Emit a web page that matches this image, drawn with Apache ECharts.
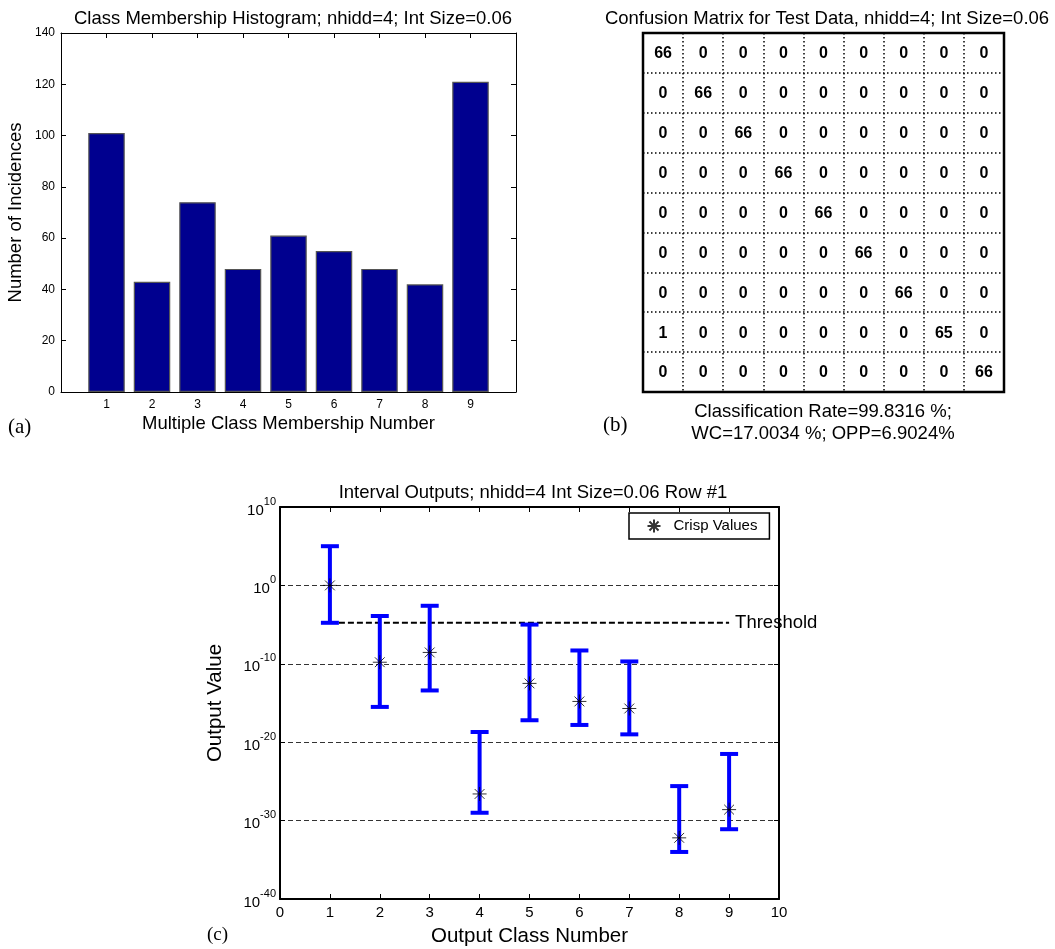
<!DOCTYPE html>
<html lang="en">
<head>
    <meta charset="utf-8">
    <title>Interval network results</title>
    <script type="text/javascript" src="https://cdn.jsdelivr.net/npm/echarts@6/dist/echarts.min.js"></script>
    <style>
        html, body { margin: 0; padding: 0; background: #fff; }
        #main { width: 1055px; height: 949px; }
    </style>
</head>
<body>
<div id="main"></div>
<script>
    // (a) 直方图数据
    var classNums = [1, 2, 3, 4, 5, 6, 7, 8, 9];
    var incidences = [101, 43, 74, 48, 61, 55, 48, 42, 121];

    // (b) 混淆矩阵，每行一个类
    var matrixLabels = ['1', '2', '3', '4', '5', '6', '7', '8', '9'];
    var confusion = [
        [66, 0, 0, 0, 0, 0, 0, 0, 0],
        [0, 66, 0, 0, 0, 0, 0, 0, 0],
        [0, 0, 66, 0, 0, 0, 0, 0, 0],
        [0, 0, 0, 66, 0, 0, 0, 0, 0],
        [0, 0, 0, 0, 66, 0, 0, 0, 0],
        [0, 0, 0, 0, 0, 66, 0, 0, 0],
        [0, 0, 0, 0, 0, 0, 66, 0, 0],
        [1, 0, 0, 0, 0, 0, 0, 65, 0],
        [0, 0, 0, 0, 0, 0, 0, 0, 66]
    ];

    // (c) 区间输出, 以 log10 指数表示 (纵轴是十进制对数刻度)
    var crispExp = [0, -9.8, -8.55, -26.6, -12.5, -14.8, -15.7, -32.2, -28.6];
    var lowExp = [-4.77, -15.5, -13.4, -29.0, -17.2, -17.8, -19.0, -34.0, -31.1];
    var highExp = [5.0, -3.9, -2.6, -18.7, -5.0, -8.3, -9.7, -25.6, -21.5];
    var thresholdExp = -4.77;
    var thresholdRange = [1, 9];

    var ff = '"Liberation Sans", Arial, Helvetica, sans-serif';
    var serif = '"Liberation Serif", "Times New Roman", serif';

    var histData = classNums.map(function (c, i) { return [c, incidences[i]]; });
    var matrixData = [];
    for (var r = 0; r < confusion.length; r++) {
        for (var c = 0; c < confusion[r].length; c++) {
            matrixData.push([c, r, confusion[r][c]]);
        }
    }
    var barData = classNums.map(function (c, i) { return [c, lowExp[i], highExp[i]]; });
    var crispData = classNums.map(function (c, i) { return [c, crispExp[i]]; });
    var thrData = thresholdRange.map(function (x) { return [x, thresholdExp]; });

    var blackLine = { show: true, onZero: false, lineStyle: { color: '#000', width: 1 } };
    var thickLine = { show: true, onZero: false, lineStyle: { color: '#000', width: 2 } };
    var inTick = { show: true, inside: true, length: 5, lineStyle: { color: '#000' } };

    var myChart = echarts.init(document.getElementById('main'));

    var option = {
        animation: false,
        textStyle: { fontFamily: ff },
        title: [
            {
                text: 'Class Membership Histogram; nhidd=4; Int Size=0.06',
                left: 288, top: 4, textAlign: 'center',
                textStyle: { fontFamily: ff, fontSize: 18.5, fontWeight: 'normal', color: '#000' }
            },
            {
                text: 'Confusion Matrix for Test Data, nhidd=4; Int Size=0.06',
                left: 822, top: 4, textAlign: 'center',
                textStyle: { fontFamily: ff, fontSize: 18.5, fontWeight: 'normal', color: '#000' }
            },
            {
                text: 'Interval Outputs; nhidd=4 Int Size=0.06 Row #1',
                left: 528, top: 478, textAlign: 'center',
                textStyle: { fontFamily: ff, fontSize: 18.5, fontWeight: 'normal', color: '#000' }
            }
        ],
        legend: {
            data: ['Crisp Values'],
            left: 629, top: 513,
            backgroundColor: '#fff',
            borderColor: '#000', borderWidth: 1.5, borderRadius: 0,
            padding: [4, 12, 4, 16],
            itemWidth: 13, itemHeight: 13,
            textStyle: { fontFamily: ff, fontSize: 15, color: '#000', padding: [0, 0, 0, 8] }
        },
        grid: [
            { left: 61, top: 33, width: 455, height: 359, outerBoundsMode: 'none' },
            { left: 643, top: 33, width: 361, height: 359, outerBoundsMode: 'none', show: true, borderColor: '#000', borderWidth: 2.5, backgroundColor: 'transparent' },
            { left: 280, top: 507, width: 499, height: 392, outerBoundsMode: 'none' }
        ],
        xAxis: [
            {
                type: 'value', gridIndex: 0, position: 'bottom', min: 0, max: 10, interval: 1,
                axisLine: blackLine, axisTick: inTick, splitLine: { show: false },
                axisLabel: {
                    color: '#000', fontSize: 12, margin: 7,
                    formatter: function (v) { return (v >= 1 && v <= 9) ? String(v) : ''; }
                },
                name: 'Multiple Class Membership Number', nameLocation: 'middle', nameGap: 22,
                nameTextStyle: { fontSize: 18.5, color: '#000' }
            },
            {
                type: 'value', gridIndex: 0, position: 'top', min: 0, max: 10, interval: 1,
                axisLine: blackLine, axisTick: inTick, axisLabel: { show: false }, splitLine: { show: false }
            },
            {
                type: 'category', gridIndex: 1, data: matrixLabels,
                axisLine: { show: false }, axisTick: { show: false }, axisLabel: { show: false },
                splitLine: { show: true, lineStyle: { color: '#000', width: 1.5, type: [1.5, 2.5] } }
            },
            {
                type: 'value', gridIndex: 2, position: 'bottom', min: 0, max: 10, interval: 1,
                axisLine: thickLine, axisTick: inTick, splitLine: { show: false },
                axisLabel: { color: '#000', fontSize: 15, margin: 6 },
                name: 'Output Class Number', nameLocation: 'middle', nameGap: 27,
                nameTextStyle: { fontSize: 20.5, color: '#000' }
            },
            {
                type: 'value', gridIndex: 2, position: 'top', min: 0, max: 10, interval: 1,
                axisLine: thickLine, axisTick: inTick, axisLabel: { show: false }, splitLine: { show: false }
            }
        ],
        yAxis: [
            {
                type: 'value', gridIndex: 0, position: 'left', min: 0, max: 140, interval: 20,
                axisLine: blackLine, axisTick: inTick, splitLine: { show: false },
                axisLabel: { color: '#000', fontSize: 12, margin: 6 },
                name: 'Number of Incidences', nameLocation: 'middle', nameGap: 36,
                nameTextStyle: { fontSize: 18.5, color: '#000' }
            },
            {
                type: 'value', gridIndex: 0, position: 'right', min: 0, max: 140, interval: 20,
                axisLine: blackLine, axisTick: inTick, axisLabel: { show: false }, splitLine: { show: false }
            },
            {
                type: 'category', gridIndex: 1, data: matrixLabels, inverse: true,
                axisLine: { show: false }, axisTick: { show: false }, axisLabel: { show: false },
                splitLine: { show: true, lineStyle: { color: '#000', width: 1.5, type: [1.5, 2.5] } }
            },
            {
                type: 'value', gridIndex: 2, position: 'left', min: -40, max: 10, interval: 10,
                axisLine: thickLine, axisTick: inTick,
                splitLine: { show: true, lineStyle: { color: '#333', width: 1, type: [5, 3] } },
                axisLabel: {
                    margin: 4,
                    formatter: function (v) { return '{b|10}{s|' + v + '}'; },
                    rich: {
                        b: { fontSize: 15, color: '#000', fontFamily: ff, lineHeight: 22, verticalAlign: 'bottom' },
                        s: { fontSize: 11, color: '#000', fontFamily: ff, lineHeight: 22, verticalAlign: 'top' }
                    }
                },
                name: 'Output Value', nameLocation: 'middle', nameGap: 54,
                nameTextStyle: { fontSize: 20.5, color: '#000' }
            },
            {
                type: 'value', gridIndex: 2, position: 'right', min: -40, max: 10, interval: 10,
                axisLine: thickLine, axisTick: inTick,
                axisLabel: { show: false }, splitLine: { show: false }
            }
        ],
        series: [
            {
                type: 'bar', xAxisIndex: 0, yAxisIndex: 0, data: histData, barWidth: 36.5,
                itemStyle: { color: '#00008F', borderColor: '#555', borderWidth: 1.2 }
            },
            {
                type: 'custom', xAxisIndex: 2, yAxisIndex: 2, data: matrixData,
                encode: { x: 0, y: 1 },
                renderItem: function (params, api) {
                    var p = api.coord([api.value(0), api.value(1)]);
                    return {
                        type: 'text', x: p[0], y: p[1] + 1,
                        style: {
                            text: String(api.value(2)), fill: '#000',
                            font: 'bold 16px ' + ff,
                            align: 'center', verticalAlign: 'middle',
                            textAlign: 'center', textVerticalAlign: 'middle'
                        }
                    };
                }
            },
            {
                type: 'custom', xAxisIndex: 3, yAxisIndex: 3, data: barData,
                encode: { x: 0, y: [1, 2] }, z: 3,
                renderItem: function (params, api) {
                    var x = api.value(0);
                    var lo = api.coord([x, api.value(1)]);
                    var hi = api.coord([x, api.value(2)]);
                    var hw = 9;
                    var st = { stroke: '#0000FF', lineWidth: 4 };
                    return {
                        type: 'group',
                        children: [
                            { type: 'line', shape: { x1: lo[0], y1: lo[1], x2: hi[0], y2: hi[1] }, style: st },
                            { type: 'line', shape: { x1: lo[0] - hw, y1: lo[1], x2: lo[0] + hw, y2: lo[1] }, style: st },
                            { type: 'line', shape: { x1: hi[0] - hw, y1: hi[1], x2: hi[0] + hw, y2: hi[1] }, style: st }
                        ]
                    };
                }
            },
            {
                name: 'Threshold', type: 'line', xAxisIndex: 3, yAxisIndex: 3, data: thrData,
                symbol: 'none', z: 2,
                lineStyle: { color: '#000', width: 2, type: [6, 3] },
                endLabel: { show: true, formatter: 'Threshold', fontSize: 18.5, color: '#000', distance: 6 }
            },
            {
                name: 'Crisp Values', type: 'scatter', xAxisIndex: 3, yAxisIndex: 3, data: crispData,
                symbol: 'path://M0,6L12,6M6,0L6,12M1.8,1.8L10.2,10.2M10.2,1.8L1.8,10.2',
                symbolSize: 14, z: 5,
                itemStyle: { color: 'none', borderColor: '#000', borderWidth: 1 }
            }
        ],
        graphic: [
            { type: 'text', x: 8, y: 427, style: { text: '(a)', font: '21px ' + serif, fill: '#000', verticalAlign: 'middle', textVerticalAlign: 'middle' } },
            { type: 'text', x: 603, y: 425, style: { text: '(b)', font: '21px ' + serif, fill: '#000', verticalAlign: 'middle', textVerticalAlign: 'middle' } },
            { type: 'text', x: 207, y: 935, style: { text: '(c)', font: '19px ' + serif, fill: '#000', verticalAlign: 'middle', textVerticalAlign: 'middle' } },
            { type: 'text', x: 823, y: 412, style: { text: 'Classification Rate=99.8316 %;', font: '18.5px ' + ff, fill: '#000', align: 'center', textAlign: 'center', verticalAlign: 'middle', textVerticalAlign: 'middle' } },
            { type: 'text', x: 823, y: 434, style: { text: 'WC=17.0034 %; OPP=6.9024%', font: '18.5px ' + ff, fill: '#000', align: 'center', textAlign: 'center', verticalAlign: 'middle', textVerticalAlign: 'middle' } }
        ]
    };

    myChart.setOption(option);
</script>
</body>
</html>
